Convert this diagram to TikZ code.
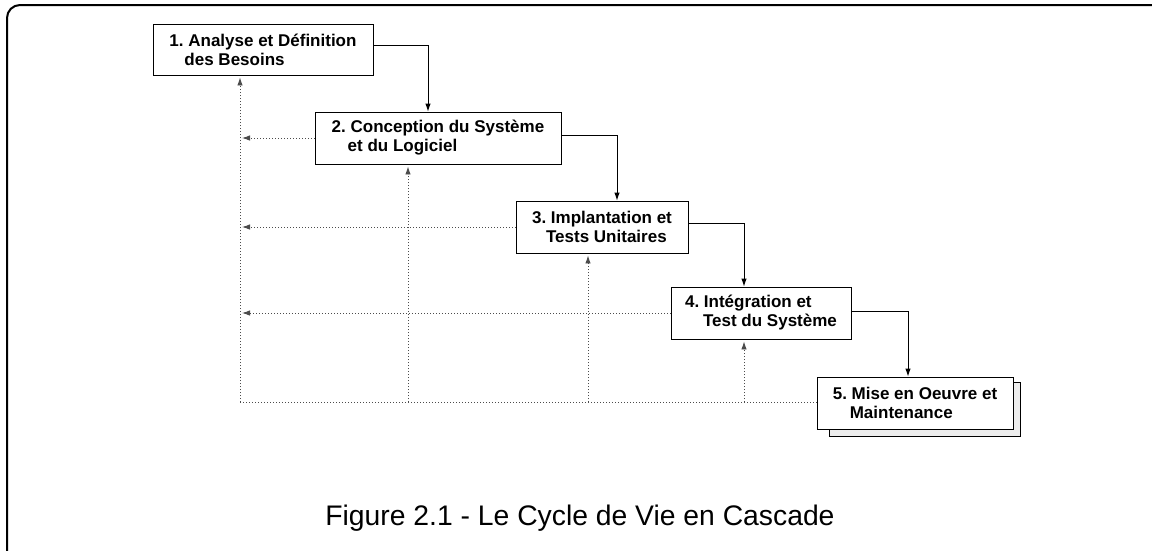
\documentclass[tikz,border=0pt]{standalone}
\usepackage{fontspec}
\setmainfont{Liberation Sans}
\usetikzlibrary{arrows.meta,calc}
\frenchspacing
\begin{document}
\begin{tikzpicture}[x=1pt,y=-1pt,
  stage/.style={draw, line width=0.9pt, fill=white, align=left, inner sep=0pt,
    minimum height=52pt, font=\fontsize{17}{19}\selectfont\bfseries},
  shadowbox/.style={draw, line width=0.9pt, fill=black!7, inner sep=0pt},
  flow/.style={line width=0.9pt, -{Latex[length=8pt,width=5.5pt]}},
  fb/.style={black!70, line width=0.9pt, dash pattern=on 1pt off 2pt},
  fbarrow/.style={fb, -{Latex[length=8pt,width=5.5pt]}, shorten >=2pt},
  caption/.style={font=\fontsize{28.3}{32}\selectfont}]
\useasboundingbox (0,0) rectangle (1152,550);
\clip (0,0) rectangle (1152,550);
% outer frame
\draw[line width=2pt, rounded corners=13pt] (7,5) rectangle (1166,600);

% stages
\node[stage, minimum width=220pt, minimum height=51pt] (b1) at (263,49.5)
  {1. Analyse et Définition\\\hspace*{15pt}des Besoins};
\node[stage, minimum width=246pt] (b2) at (438,138)
  {2. Conception du Système\\\hspace*{16pt}et du Logiciel};
\node[stage, minimum width=172pt] (b3) at (602,227)
  {3. Implantation et\\\hspace*{14pt}Tests Unitaires};
\node[stage, minimum width=180pt] (b4) at (761,313)
  {4. Intégration et\\\hspace*{18pt}Test du Système};
\node[shadowbox, minimum width=191pt, minimum height=54pt] (s5) at (924.5,409) {};
\node[stage, minimum width=196pt] (b5) at (915,403)
  {5. Mise en Oeuvre et\\\hspace*{17pt}Maintenance};

% helper coordinates
\coordinate (k2) at (428,0);
\coordinate (k3) at (617,0);
\coordinate (k4) at (744,0);
\coordinate (k5) at (908,0);
\coordinate (bot) at (240,402);
\coordinate (u2) at (408,402);
\coordinate (u3) at (588,402);
\coordinate (u4) at (744,402);

% forward flow
\draw[flow] ([yshift=4.5pt]b1.east) -| (b2.north -| k2);
\draw[flow] ([yshift=3pt]b2.east) -| (b3.north -| k3);
\draw[flow] ([yshift=4pt]b3.east) -| (b4.north -| k4);
\draw[flow] ([yshift=1.5pt]b4.east) -| (b5.north -| k5);

% feedback
\draw[fb] (b5.west |- bot) -- (bot);
\draw[fbarrow] (bot) -- (bot |- b1.south);
\draw[fbarrow] (b2.west) -- (b2.west -| bot);
\draw[fbarrow] (b3.west) -- (b3.west -| bot);
\draw[fbarrow] (b4.west) -- (b4.west -| bot);
\draw[fbarrow] (u2) -- (u2 |- b2.south);
\draw[fbarrow] (u3) -- (u3 |- b3.south);
\draw[fbarrow] (u4) -- (u4 |- b4.south);

% caption
\node[caption] (cap) at (580,518) {Figure 2.1 - Le Cycle de Vie en Cascade};
\end{tikzpicture}
\end{document}
